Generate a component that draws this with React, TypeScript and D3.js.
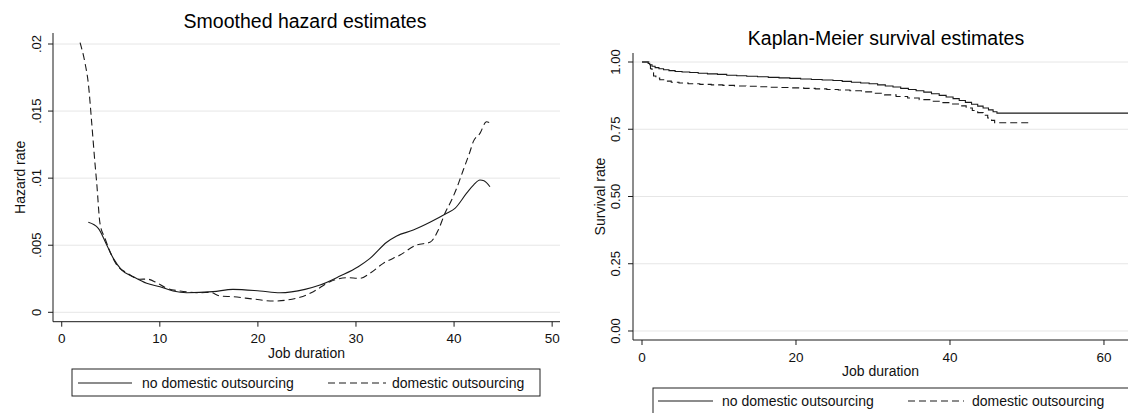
import React from "react";
import * as d3 from "d3";

// Smoothed hazard estimates (job duration vs hazard rate)
const hazardNoTime = [2.71, 3.73, 4.59, 5.26, 6.12, 7.3, 8.66, 10.02, 11.35, 12.74, 15.42, 17.46, 20.21, 22.25, 24.8, 26.33, 28.37, 30.23, 31.43, 33.13, 34.15, 35.84, 37.54, 39.25, 40.09, 41.3, 42.0, 42.64, 43.05, 43.66];
const hazardNoValue = [0.00671, 0.00626, 0.00502, 0.00402, 0.00315, 0.00265, 0.00216, 0.0019, 0.00159, 0.00146, 0.00154, 0.00171, 0.00159, 0.00146, 0.00171, 0.00203, 0.0027, 0.0034, 0.00402, 0.00522, 0.00569, 0.00613, 0.00671, 0.00738, 0.00775, 0.0089, 0.0095, 0.00986, 0.0098, 0.00936];

const hazardDomTime = [1.87, 2.38, 2.71, 3.06, 3.39, 3.57, 3.9, 4.41, 4.92, 5.61, 6.63, 7.98, 8.66, 9.68, 10.7, 12.06, 14.1, 15.12, 16.14, 17.49, 19.53, 21.57, 24.29, 25.65, 27.35, 29.05, 30.41, 31.43, 32.78, 34.49, 36.19, 37.54, 38.39, 39.07, 39.75, 40.26, 40.94, 41.62, 41.96, 42.64, 43.3, 43.66];
const hazardDomValue = [0.0201, 0.01856, 0.01707, 0.01409, 0.0111, 0.00962, 0.00663, 0.00552, 0.00452, 0.00353, 0.00295, 0.00246, 0.00248, 0.00221, 0.00179, 0.00159, 0.00146, 0.00149, 0.00122, 0.00116, 0.00099, 0.00084, 0.00112, 0.00154, 0.00228, 0.00258, 0.00253, 0.00291, 0.00365, 0.00427, 0.00502, 0.00522, 0.00613, 0.00738, 0.00837, 0.00924, 0.01061, 0.01197, 0.01272, 0.01334, 0.0142, 0.01413];

// Kaplan-Meier survival estimates (step functions)
const kmNoTime = [0, 0.8, 1.0, 1.3, 1.7, 2.2, 2.8, 3.5, 4.3, 5.2, 6.2, 7.3, 8.5, 9.8, 11, 12.3, 13.6, 15, 16.4, 17.8, 19.2, 20.6, 22, 23.4, 24.8, 26, 27.2, 28.4, 29.5, 30.6, 31.6, 32.6, 33.6, 34.6, 35.6, 36.6, 37.6, 38.6, 39.5, 40.4, 41.2, 42, 42.8, 43.6, 44.3, 45, 45.6, 46.1, 63.2];
const kmNoValue = [1.0, 0.995, 0.99, 0.984, 0.979, 0.975, 0.971, 0.968, 0.965, 0.963, 0.961, 0.958, 0.956, 0.954, 0.951, 0.949, 0.947, 0.945, 0.943, 0.941, 0.939, 0.937, 0.935, 0.933, 0.931, 0.928, 0.925, 0.922, 0.919, 0.915, 0.911, 0.907, 0.902, 0.898, 0.893, 0.888, 0.882, 0.876, 0.87, 0.864, 0.857, 0.85, 0.843, 0.836, 0.829, 0.822, 0.815, 0.81, 0.81];
const kmDomTime = [0, 0.9, 1.1, 1.3, 1.5, 1.8, 2.3, 3, 3.8, 4.8, 6, 7.5, 9, 10.5, 12, 13.5, 15, 16.5, 18, 19.5, 21, 22.5, 24, 25.5, 27, 28.5, 30, 31.5, 33, 34.5, 36, 37.5, 39, 40.2, 41.2, 42.1, 42.9, 43.6, 44.3, 44.9, 45.4, 45.8, 50.6];
const kmDomValue = [1.0, 0.99, 0.975, 0.96, 0.948, 0.94, 0.934, 0.929, 0.925, 0.922, 0.919, 0.917, 0.915, 0.913, 0.911, 0.91, 0.908, 0.906, 0.905, 0.904, 0.902, 0.9, 0.898, 0.896, 0.893, 0.889, 0.884, 0.878, 0.872, 0.866, 0.86, 0.854, 0.849, 0.844, 0.837, 0.829, 0.82, 0.812, 0.802, 0.792, 0.783, 0.774, 0.774];

const hazardXTicks = [0, 10, 20, 30, 40, 50];
const hazardYTicks = [0, 0.005, 0.01, 0.015, 0.02];
const hazardYLabels = ["0", ".005", ".01", ".015", ".02"];
const kmXTicks = [0, 20, 40, 60];
const kmYTicks = [0, 0.25, 0.5, 0.75, 1];
const kmYLabels = ["0.00", "0.25", "0.50", "0.75", "1.00"];

const seriesNames = ["no domestic outsourcing", "domestic outsourcing"];

const FONT = "'Liberation Sans', Arial, Helvetica, sans-serif";
const INK = "#1a1a1a";
const GRID = "#e6e6e6";
const DASH = "7,4";

type Pt = [number, number];
const zip = (a: number[], b: number[]): Pt[] => a.map((t, i) => [t, b[i]]);

function Panel(props: {
  x: d3.ScaleLinear<number, number>;
  y: d3.ScaleLinear<number, number>;
  xTicks: number[];
  yTicks: number[];
  yLabels: string[];
  title: string;
  titleX: number;
  titleY: number;
  yTitle: string;
  yTitleX: number;
  yLabelX: number;
  xLabelY: number;
  xTitleY: number;
  series: { pts: Pt[]; dashed: boolean }[];
  curve: d3.CurveFactory;
}) {
  const { x, y } = props;
  const [x0, x1] = x.range();
  const [yb, yt] = y.range();
  const line = d3
    .line<Pt>()
    .x((d) => x(d[0]))
    .y((d) => y(d[1]))
    .curve(props.curve);
  const yMid = (yb + yt) / 2;
  const xMid = (x0 + x1) / 2;
  return (
    <g>
      {props.yTicks.map((t, i) => (
        <g key={"y" + i}>
          <line x1={x0} x2={x1} y1={y(t)} y2={y(t)} stroke={GRID} strokeWidth={1} />
          <line x1={x0 - 5} x2={x0} y1={y(t)} y2={y(t)} stroke={INK} strokeWidth={1} />
          <text
            x={props.yLabelX}
            y={y(t)}
            transform={`rotate(-90, ${props.yLabelX}, ${y(t)})`}
            textAnchor="middle"
            fontSize={13}
            fontFamily={FONT}
            fill="#111"
          >
            {props.yLabels[i]}
          </text>
        </g>
      ))}
      {props.xTicks.map((t, i) => (
        <g key={"x" + i}>
          <line x1={x(t)} x2={x(t)} y1={yb} y2={yb + 5} stroke={INK} strokeWidth={1} />
          <text x={x(t)} y={props.xLabelY} textAnchor="middle" fontSize={13.5} fontFamily={FONT} fill="#111">
            {t}
          </text>
        </g>
      ))}
      <line x1={x0} x2={x0} y1={yt} y2={yb} stroke={INK} strokeWidth={1} />
      <line x1={x0} x2={x1} y1={yb} y2={yb} stroke={INK} strokeWidth={1} />
      {props.series.map((s, i) => (
        <path
          key={"s" + i}
          d={line(s.pts) || ""}
          fill="none"
          stroke={INK}
          strokeWidth={1.1}
          strokeDasharray={s.dashed ? DASH : undefined}
        />
      ))}
      <text x={props.titleX} y={props.titleY} textAnchor="middle" fontSize={19.5} fontFamily={FONT} fill="#000">
        {props.title}
      </text>
      <text
        x={props.yTitleX}
        y={yMid}
        transform={`rotate(-90, ${props.yTitleX}, ${yMid})`}
        textAnchor="middle"
        fontSize={14}
        fontFamily={FONT}
        fill="#111"
      >
        {props.yTitle}
      </text>
      <text x={xMid} y={props.xTitleY} textAnchor="middle" fontSize={14} fontFamily={FONT} fill="#111">
        Job duration
      </text>
    </g>
  );
}

function Legend(props: { x: number; y: number; w: number; h: number; solid: [number, number]; solidText: number; dash: [number, number]; dashText: number; baseline: number }) {
  const ly = props.baseline - 5;
  return (
    <g>
      <rect x={props.x} y={props.y} width={props.w} height={props.h} fill="#fff" stroke="#222" strokeWidth={1} />
      <line x1={props.solid[0]} x2={props.solid[1]} y1={ly} y2={ly} stroke={INK} strokeWidth={1.1} />
      <text x={props.solidText} y={props.baseline} fontSize={14} fontFamily={FONT} fill="#111">
        {seriesNames[0]}
      </text>
      <line x1={props.dash[0]} x2={props.dash[1]} y1={ly} y2={ly} stroke={INK} strokeWidth={1.1} strokeDasharray={DASH} />
      <text x={props.dashText} y={props.baseline} fontSize={14} fontFamily={FONT} fill="#111">
        {seriesNames[1]}
      </text>
    </g>
  );
}

export default function App() {
  const W = 1128;
  const H = 413;

  const hx = d3.scaleLinear().domain([-0.89, 50.8]).range([53, 560]);
  const hy = d3.scaleLinear().domain([-0.0007, 0.02082]).range([321.7, 33]);

  const kx = d3.scaleLinear().domain([-1.17, 63.12]).range([633, 1128]);
  const ky = d3.scaleLinear().domain([-0.0335, 1.0335]).range([340, 53]);

  return (
    <svg
      width={W}
      height={H}
      viewBox={`0 0 ${W} ${H}`}
      style={{ position: "absolute", left: 0, top: 0, background: "#fff" }}
    >
      <rect x={0} y={0} width={W} height={H} fill="#fff" />
      <Panel
        x={hx}
        y={hy}
        xTicks={hazardXTicks}
        yTicks={hazardYTicks}
        yLabels={hazardYLabels}
        title="Smoothed hazard estimates"
        titleX={305}
        titleY={28}
        yTitle="Hazard rate"
        yTitleX={25}
        yLabelX={41}
        xLabelY={343}
        xTitleY={358}
        curve={d3.curveMonotoneX}
        series={[
          { pts: zip(hazardNoTime, hazardNoValue), dashed: false },
          { pts: zip(hazardDomTime, hazardDomValue), dashed: true },
        ]}
      />
      <Legend x={72} y={369} w={468} h={27} solid={[78, 132]} solidText={142} dash={[328, 386]} dashText={392} baseline={388} />

      <Panel
        x={kx}
        y={ky}
        xTicks={kmXTicks}
        yTicks={kmYTicks}
        yLabels={kmYLabels}
        title="Kaplan-Meier survival estimates"
        titleX={886}
        titleY={45}
        yTitle="Survival rate"
        yTitleX={605}
        yLabelX={620}
        xLabelY={362}
        xTitleY={376}
        curve={d3.curveStepAfter}
        series={[
          { pts: zip(kmNoTime, kmNoValue), dashed: false },
          { pts: zip(kmDomTime, kmDomValue), dashed: true },
        ]}
      />
      <Legend x={653} y={388} w={480} h={40} solid={[658, 713]} solidText={722} dash={[908, 964]} dashText={972} baseline={406} />
    </svg>
  );
}
